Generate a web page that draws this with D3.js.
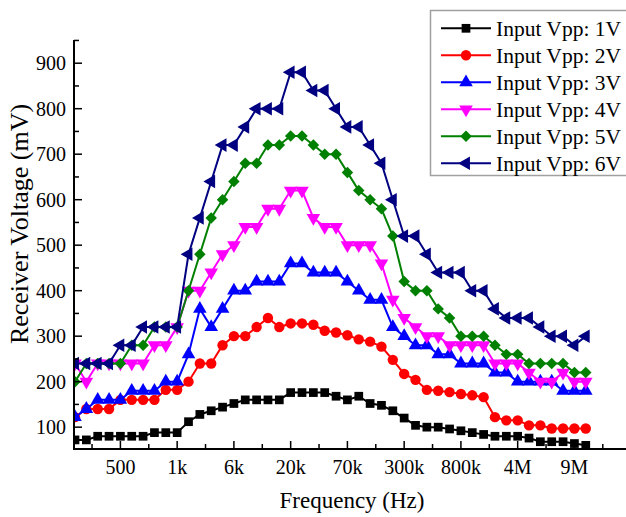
<!DOCTYPE html>
<html>
<head>
<meta charset="utf-8">
<script src="https://cdn.jsdelivr.net/npm/d3@7"></script>
<style>
  body { margin: 0; background: #fff; }
</style>
</head>
<body>
<svg id="chart" width="626" height="517" font-family="'Liberation Serif', 'Times New Roman', Times, serif"></svg>
<script>
// point index along the frequency sweep, only some of them are labelled
const tickIndex = [4, 9, 14, 19, 24, 29, 34, 39, 44];
const tickLabels = ["500", "1k", "6k", "20k", "70k", "300k", "800k", "4M", "9M"];
const yTicks = [100, 200, 300, 400, 500, 600, 700, 800, 900];

const seriesNames = ["Input Vpp: 1V", "Input Vpp: 2V", "Input Vpp: 3V", "Input Vpp: 4V", "Input Vpp: 5V", "Input Vpp: 6V"];

const vpp1 = [72, 72, 80, 80, 80, 80, 80, 88, 88, 88, 112, 128, 136, 144, 152, 160, 160, 160, 160, 176, 176, 176, 176, 168,
  160, 168, 152, 148, 136, 120, 104, 100, 100, 96, 92, 88, 84, 80, 80, 80, 76, 68, 68, 68, 64, 60];
const vpp2 = [122, 140, 140, 140, 160, 160, 160, 160, 182, 182, 200, 240, 240, 280, 300, 300, 320, 340, 320, 328, 328, 325, 312, 308,
  302, 293, 288, 277, 248, 217, 204, 182, 180, 177, 173, 170, 166, 122, 115, 115, 104, 104, 97, 97, 97, 97];
const vpp3 = [122, 140, 160, 160, 160, 180, 180, 180, 200, 200, 260, 360, 320, 360, 400, 400, 420, 420, 420, 460, 460, 440, 440, 440,
  420, 400, 380, 380, 320, 300, 280, 280, 260, 260, 240, 240, 240, 220, 220, 200, 200, 200, 200, 180, 180, 180];
const vpp4 = [240, 200, 240, 240, 240, 240, 240, 280, 280, 320, 400, 400, 440, 480, 500, 540, 540, 580, 580, 620, 620, 560, 540, 540,
  500, 500, 500, 460, 380, 340, 320, 300, 300, 280, 280, 280, 280, 240, 240, 240, 220, 200, 200, 220, 200, 200];
const vpp5 = [200, 240, 240, 240, 240, 280, 280, 320, 320, 320, 400, 480, 560, 600, 640, 680, 680, 720, 720, 740, 740, 720, 700, 700,
  660, 620, 600, 580, 520, 420, 400, 400, 360, 340, 300, 300, 300, 280, 260, 260, 240, 240, 240, 240, 220, 220];
const vpp6 = [240, 240, 240, 240, 280, 280, 320, 320, 320, 320, 480, 560, 640, 720, 720, 760, 800, 800, 800, 880, 880, 840, 840, 800,
  760, 760, 720, 680, 600, 520, 520, 480, 440, 440, 440, 400, 400, 360, 340, 340, 340, 320, 300, 300, 280, 300];

const colors = ["#000000", "#ff0000", "#0000ff", "#ff00ff", "#008000", "#000080"];

const svg = d3.select("#chart");
const serif = "'Liberation Serif', 'Times New Roman', Times, serif";

const x = d3.scaleLinear().domain([0, 48.5]).range([75, 625.5]);
const y = d3.scaleLinear().domain([52, 951]).range([449, 40]);

// marker for each series: symbol type, size and rotation
function markerFor(i) {
  const list = [
    { type: d3.symbolSquare, size: 76, rot: 0 },
    { type: d3.symbolCircle, size: 85, rot: 0 },
    { type: d3.symbolTriangle, size: 80, rot: 0 },
    { type: d3.symbolTriangle, size: 80, rot: 180 },
    { type: d3.symbolSquare, size: 66, rot: 45 },
    { type: d3.symbolTriangle, size: 80, rot: -90 }
  ];
  return list[i];
}

function drawSeries() {
  const allSeries = [vpp1, vpp2, vpp3, vpp4, vpp5, vpp6];

  svg.append("clipPath").attr("id", "plotClip")
    .append("rect")
    .attr("x", x(0)).attr("y", 0)
    .attr("width", 626 - x(0)).attr("height", y(52));

  const plot = svg.append("g").attr("clip-path", "url(#plotClip)");

  const line = d3.line()
    .x((d, i) => x(i))
    .y(d => y(d));

  allSeries.forEach((values, s) => {
    const m = markerFor(s);
    const g = plot.append("g");
    g.append("path")
      .datum(values)
      .attr("d", line)
      .attr("fill", "none")
      .attr("stroke", colors[s])
      .attr("stroke-width", 2);

    g.selectAll("path.mark")
      .data(values)
      .enter()
      .append("path")
      .attr("class", "mark")
      .attr("d", d3.symbol().type(m.type).size(m.size))
      .attr("transform", (d, i) => "translate(" + x(i) + "," + y(d) + ") rotate(" + m.rot + ")")
      .attr("fill", colors[s]);
  });
}

function drawAxes() {
  const xAxis = svg.append("g");
  xAxis.append("line")
    .attr("x1", 74).attr("x2", 626)
    .attr("y1", 449).attr("y2", 449)
    .attr("stroke", "#000").attr("stroke-width", 2);

  // major ticks point into the plot
  tickIndex.forEach((t, i) => {
    xAxis.append("line")
      .attr("x1", x(t)).attr("x2", x(t))
      .attr("y1", 449).attr("y2", 441)
      .attr("stroke", "#000").attr("stroke-width", 1.5);
    xAxis.append("text")
      .attr("x", x(t)).attr("y", 474)
      .attr("text-anchor", "middle")
      .attr("font-family", serif)
      .style("font-size", "20px")
      .text(tickLabels[i]);
  });
  // minor ticks half way between
  d3.range(1.5, 48, 5).forEach(t => {
    xAxis.append("line")
      .attr("x1", x(t)).attr("x2", x(t))
      .attr("y1", 449).attr("y2", 444)
      .attr("stroke", "#000").attr("stroke-width", 1.5);
  });

  const yAxis = svg.append("g");
  yAxis.append("line")
    .attr("x1", 74).attr("x2", 74)
    .attr("y1", 40).attr("y2", 450)
    .attr("stroke", "#000").attr("stroke-width", 2);

  yTicks.forEach(v => {
    yAxis.append("line")
      .attr("x1", 74).attr("x2", 82)
      .attr("y1", y(v)).attr("y2", y(v))
      .attr("stroke", "#000").attr("stroke-width", 1.5);
    yAxis.append("text")
      .attr("x", 66).attr("y", y(v))
      .attr("dy", "0.35em")
      .attr("text-anchor", "end")
      .attr("font-family", serif)
      .style("font-size", "20px")
      .text(v);
  });
  d3.range(150, 951, 100).forEach(v => {
    yAxis.append("line")
      .attr("x1", 74).attr("x2", 79)
      .attr("y1", y(v)).attr("y2", y(v))
      .attr("stroke", "#000").attr("stroke-width", 1.5);
  });

  svg.append("text")
    .attr("x", 352).attr("y", 508)
    .attr("text-anchor", "middle")
    .attr("font-family", serif)
    .style("font-size", "23px")
    .text("Frequency (Hz)");

  svg.append("text")
    .attr("transform", "translate(28,224) rotate(-90)")
    .attr("text-anchor", "middle")
    .attr("font-family", serif)
    .style("font-size", "26px")
    .text("Receiver Voltage (mV)");
}

function drawLegend() {
  const lg = svg.append("g");
  lg.append("rect")
    .attr("x", 430.5).attr("y", 10.5)
    .attr("width", 200).attr("height", 165)
    .attr("fill", "#fff")
    .attr("stroke", "#a0a0a0").attr("stroke-width", 1.5);

  seriesNames.forEach((name, s) => {
    const ry = 28.3 + s * 27;
    const m = markerFor(s);
    lg.append("line")
      .attr("x1", 441).attr("x2", 491)
      .attr("y1", ry).attr("y2", ry)
      .attr("stroke", colors[s]).attr("stroke-width", 2);
    lg.append("path")
      .attr("d", d3.symbol().type(m.type).size(m.size))
      .attr("transform", "translate(466," + ry + ") rotate(" + m.rot + ")")
      .attr("fill", colors[s]);
    lg.append("text")
      .attr("x", 496).attr("y", ry)
      .attr("dy", "0.35em")
      .attr("font-family", serif)
      .style("font-size", "21.5px")
      .text(name);
  });
}

drawSeries();
drawAxes();
drawLegend();
</script>
</body>
</html>
